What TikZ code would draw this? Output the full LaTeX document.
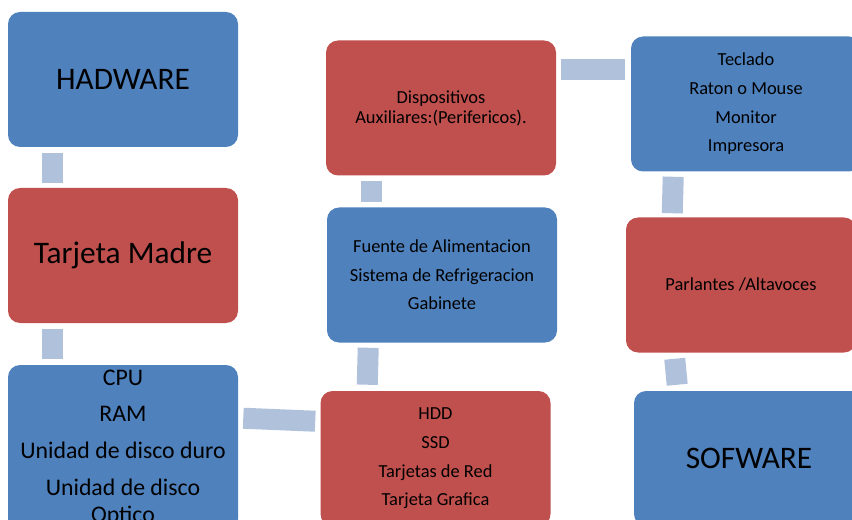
\documentclass[tikz,border=0pt]{standalone}
\usepackage{fontspec}
\setmainfont{Carlito}
\usetikzlibrary{calc}
\definecolor{boxblue}{HTML}{4F81BD}
\definecolor{boxred}{HTML}{C0504D}
\definecolor{connblue}{HTML}{B0C1DC}
\begin{document}
\begin{tikzpicture}[x=0.75pt,y=-0.75pt,
  box/.style={rounded corners=9pt, draw=none, inner sep=0pt, align=center, text=black,
    minimum width=172.5pt, minimum height=101.25pt},
  bluebox/.style={box, fill=boxblue},
  redbox/.style={box, fill=boxred},
  big/.style={font=\fontsize{23.5pt}{28pt}\selectfont},
  mid/.style={font=\fontsize{17.85pt}{20.3pt}\selectfont},
  small/.style={font=\fontsize{13.8pt}{15pt}\selectfont},
  conn/.style={draw=connblue, line width=15.75pt, line cap=butt}]
\useasboundingbox (0,0) rectangle (852,520);
\clip (0,0) rectangle (852,520);

\node[bluebox, big] (A) at (123,79.5) {HADWARE};
\node[redbox, big] (B) at (123,255.5) {Tarjeta Madre};
\node[bluebox, mid, minimum height=124.5pt] (C) at (123,448)
  {CPU\\[7.2pt]RAM\\[7.2pt]Unidad de disco duro\\[7.2pt]Unidad de disco\\Optico};
\node[redbox, small] (D) at (435.5,458.5)
  {HDD\\[6.5pt]SSD\\[6.5pt]Tarjetas de Red\\[6.5pt]Tarjeta Grafica};
\node[bluebox, small] (E) at (442,275)
  {Fuente de Alimentacion\\[6.5pt]Sistema de Refrigeracion\\[6.5pt]Gabinete};
\node[redbox, small] (F) at (441,108)
  {Dispositivos\\Auxiliares:(Perifericos).};
\node[bluebox, small] (G) at (746,104)
  {Teclado\\[6.5pt]Raton o Mouse\\[6.5pt]Monitor\\[6.5pt]Impresora};
\node[redbox, small] (H) at (741,285) {Parlantes /Altavoces};
\node[bluebox, big] (I) at (749,458.5) {SOFWARE};

\draw[conn] ($(A.south west)+(45,6)$) -- ($(B.north west)+(45,-5)$);
\draw[conn] ($(B.south west)+(45,6)$) -- ($(C.north west)+(45,-6)$);
\draw[conn] ($(C.north east)+(5,53.5)$) -- ($(D.north west)+(-5,30.5)$);
\draw[conn] ($(D.north west)+(47,-6)$) -- ($(E.south west)+(41.5,5)$);
\draw[conn] ($(E.north west)+(44.5,-5)$) -- ($(F.south west)+(45.5,5)$);
\draw[conn] ($(F.north east)+(5,29.5)$) -- ($(G.north west)+(-6,33.5)$);
\draw[conn] ($(G.south west)+(42.5,5)$) -- ($(H.north west)+(46.5,-4)$);
\draw[conn] ($(H.south west)+(49,6)$) -- ($(I.north west)+(43.5,-6)$);
\end{tikzpicture}
\end{document}
